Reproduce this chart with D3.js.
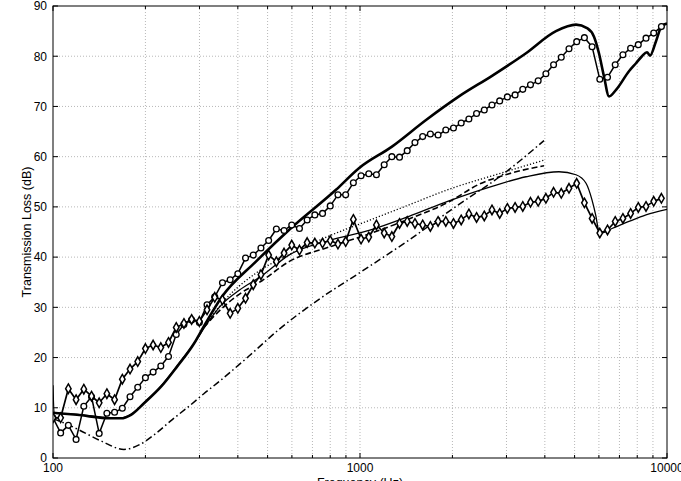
<!DOCTYPE html>
<html>
<head>
<meta charset="utf-8">
<script src="https://cdn.jsdelivr.net/npm/d3@7"></script>
<style>
  html, body { margin: 0; padding: 0; background: #fff; }
  svg { display: block; font-family: "Liberation Sans", Arial, Helvetica, sans-serif; }
</style>
</head>
<body>
<div id="chart"></div>
<script>
// 1/12-octave measurement bands (Hz)
const freq = [100, 105.9, 112.2, 118.9, 126, 133.5, 141.4, 149.8, 158.7, 168.2,
  178.2, 188.8, 200, 211.9, 224.5, 237.8, 252, 267, 282.8, 299.7,
  317.5, 336.4, 356.4, 377.6, 400, 423.8, 449, 475.7, 504, 534,
  565.7, 599.3, 635, 672.7, 712.7, 755.1, 800, 847.6, 898, 951.4,
  1008, 1068, 1131, 1199, 1270, 1345, 1425, 1510, 1600, 1695,
  1796, 1903, 2016, 2136, 2263, 2397, 2540, 2691, 2851, 3020,
  3200, 3390, 3592, 3805, 4032, 4271, 4525, 4795, 5080, 5382,
  5702, 6041, 6400, 6781, 7184, 7611, 8063, 8543, 9051, 9589];

// measured, circles
const tlCircles = [8.0, 5.0, 6.5, 3.7, 10.3, 12.2, 4.9, 8.9, 9.1, 9.9,
  12.2, 14.1, 16.0, 17.1, 18.3, 20.2, 24.6, 26.6, 27.5, 27.0,
  30.5, 32.1, 34.9, 35.5, 36.7, 39.8, 40.4, 41.8, 43.3, 45.6,
  45.3, 46.4, 45.7, 47.4, 48.4, 48.7, 50.2, 52.4, 52.4, 54.8,
  56.2, 56.6, 56.4, 58.4, 60.0, 59.9, 61.2, 62.8, 64.0, 64.5,
  64.3, 65.3, 65.7, 66.7, 67.5, 68.6, 69.3, 70.3, 71.1, 71.9,
  72.3, 73.4, 74.3, 75.1, 76.5, 78.3, 79.8, 81.5, 82.9, 83.7,
  81.9, 75.4, 75.8, 78.3, 80.3, 81.6, 82.3, 83.6, 84.6, 85.9];

// measured, diamonds
const tlDiamonds = [8.0, 8.0, 13.8, 11.6, 13.7, 12.3, 11.0, 12.8, 11.6, 15.7,
  17.7, 19.2, 21.8, 22.5, 22.0, 23.0, 26.0, 26.8, 27.6, 27.2,
  29.5, 32.0, 31.5, 28.8, 29.8, 31.8, 34.5, 36.5, 40.4, 39.1,
  40.8, 42.4, 41.4, 42.9, 42.8, 42.8, 43.3, 42.6, 43.1, 47.5,
  43.6, 44.0, 46.4, 44.8, 44.1, 46.7, 47.1, 46.7, 46.4, 46.1,
  47.1, 47.1, 46.7, 47.4, 48.6, 47.9, 48.2, 49.4, 48.7, 49.7,
  49.9, 50.1, 50.9, 51.1, 51.7, 52.9, 52.7, 53.7, 54.7, 50.8,
  47.7, 44.8, 45.4, 47.1, 47.7, 48.7, 49.9, 50.1, 51.1, 51.7];

// predictions
const thickF = [100, 119.7, 154.5, 166.5, 179.5, 197.9, 224.8, 253.5, 288, 310,
  355, 458, 587, 835, 992, 1271, 1641, 2101, 2692, 3473,
  4348, 5053, 5489, 5784, 6003, 6233, 6474, 6823, 7519, 7925,
  8289, 8607, 8804, 9209, 9632, 10000];
const thickTL = [9.0, 8.6, 7.9, 7.9, 8.6, 10.9, 14.2, 18.2, 22.8, 26.2,
  32.1, 39.1, 45.4, 53.4, 57.7, 62.0, 67.3, 72.0, 76.1, 80.6,
  85.0, 86.3, 85.6, 83.9, 80.6, 76.0, 72.0, 73.3, 77.0, 78.6,
  80.0, 80.8, 80.1, 83.0, 86.1, 86.5];

const thinF = [100, 100.8, 119.7, 154.5, 166.5, 179.5, 197.9, 224.8, 253.5, 288,
  322, 355, 404, 479.5, 587, 793, 1070, 1444, 1949, 2692,
  3473, 4448, 5053, 5448, 5697, 5870, 5983, 6095, 6620, 7519,
  8542, 10000];
const thinTL = [14.5, 9.0, 8.7, 8.0, 8.0, 8.7, 11.0, 14.3, 18.3, 22.8,
  27.3, 30.6, 33.4, 36.3, 40.4, 43.3, 45.3, 48.1, 51.2, 54.1,
  56.0, 57.0, 56.4, 54.7, 51.4, 48.1, 45.4, 44.8, 45.7, 47.1,
  48.4, 49.5];

const dashF = [310, 355, 404, 479.5, 587, 793, 1070, 1444, 1949, 2441, 3057, 3975];
const dashTL = [26.0, 29.8, 32.6, 35.3, 39.1, 42.0, 44.6, 47.6, 51.0, 54.5, 56.6, 58.2];

const dotF = [310, 355, 458, 587, 793, 1070, 1444, 1949, 2836, 3975];
const dotTL = [26.0, 30.8, 36.8, 40.5, 44.2, 47.3, 50.4, 53.5, 56.6, 59.3];

const dashDotF = [100, 109.4, 121.5, 144.4, 170.3, 190.6, 216.5, 244.1, 277.3, 310,
  347.3, 434.9, 544.8, 735.3, 992.4, 1444, 2101, 2836, 3975];
const dashDotTL = [7.8, 6.9, 5.6, 3.3, 1.7, 2.6, 4.9, 7.6, 10.3, 12.8,
  15.2, 20.3, 25.6, 31.6, 36.8, 43.4, 50.5, 55.9, 63.2];

const yTicks = [0, 10, 20, 30, 40, 50, 60, 70, 80, 90];
const xMajor = [100, 1000, 10000];
const xMinor = [200, 300, 400, 500, 600, 700, 800, 900, 2000, 3000, 4000, 5000, 6000, 7000, 8000, 9000];

const width = 681, height = 481;
const margin = { top: 6, right: 14, bottom: 23, left: 53 };
const innerW = width - margin.left - margin.right;
const innerH = height - margin.top - margin.bottom;

const svg = d3.select("#chart").append("svg").attr("width", width).attr("height", height);
const g = svg.append("g").attr("transform", `translate(${margin.left},${margin.top})`);

const x = d3.scaleLog().domain([100, 10000]).range([0, innerW]);
const y = d3.scaleLinear().domain([0, 90]).range([innerH, 0]);

svg.append("defs").append("clipPath").attr("id", "plot")
  .append("rect").attr("width", innerW).attr("height", innerH);

// grid
const grid = g.append("g").attr("stroke", "#9a9a9a").attr("stroke-width", 0.7).attr("stroke-dasharray", "1,2");
grid.selectAll(".gx").data(xMinor.concat([1000])).join("line")
  .attr("x1", (d) => x(d)).attr("x2", (d) => x(d)).attr("y1", 0).attr("y2", innerH);
grid.selectAll(".gy").data(yTicks.slice(1, -1)).join("line")
  .attr("y1", (d) => y(d)).attr("y2", (d) => y(d)).attr("x1", 0).attr("x2", innerW);

const plot = g.append("g").attr("clip-path", "url(#plot)");
const line = d3.line().x((d) => x(d[0])).y((d) => y(d[1]));
const smooth = d3.line().x((d) => x(d[0])).y((d) => y(d[1])).curve(d3.curveMonotoneX);
const zip = (a, b) => a.map((v, i) => [v, b[i]]);

function drawLine(data, gen, width, dash) {
  plot.append("path").datum(data)
    .attr("fill", "none").attr("stroke", "#000").attr("stroke-width", width)
    .attr("stroke-linejoin", "round")
    .attr("stroke-dasharray", dash || null)
    .attr("d", gen);
}

drawLine(zip(dashDotF, dashDotTL), smooth, 1.5, "7,3,1.5,3");
drawLine(zip(dotF, dotTL), smooth, 1.3, "1.2,2");
drawLine(zip(dashF, dashTL), smooth, 1.6, "6,3");
drawLine(zip(thinF, thinTL), smooth, 1.3);
drawLine(zip(thickF, thickTL), smooth, 2.6);

const circles = zip(freq, tlCircles);
drawLine(circles, line, 1.5);
plot.append("g").selectAll("circle").data(circles).join("circle")
  .attr("cx", (d) => x(d[0])).attr("cy", (d) => y(d[1])).attr("r", 2.9)
  .attr("fill", "#fff").attr("stroke", "#000").attr("stroke-width", 1.3);

const diamonds = zip(freq, tlDiamonds);
drawLine(diamonds, line, 1.7);
plot.append("g").selectAll("path").data(diamonds).join("path")
  .attr("transform", (d) => `translate(${x(d[0])},${y(d[1])})`)
  .attr("d", d3.symbol(d3.symbolDiamond, 26))
  .attr("fill", "#fff").attr("stroke", "#000").attr("stroke-width", 1.5);

// axes, MATLAB style box with inward ticks
g.append("rect").attr("width", innerW).attr("height", innerH)
  .attr("fill", "none").attr("stroke", "#000").attr("stroke-width", 1);

const ticks = g.append("g").attr("stroke", "#000").attr("stroke-width", 1);
ticks.selectAll(".ty").data(yTicks).join("line")
  .attr("x1", 0).attr("x2", 5).attr("y1", (d) => y(d)).attr("y2", (d) => y(d));
ticks.selectAll(".tyr").data(yTicks).join("line")
  .attr("x1", innerW - 5).attr("x2", innerW).attr("y1", (d) => y(d)).attr("y2", (d) => y(d));
ticks.selectAll(".tx").data(xMajor.concat(xMinor)).join("line")
  .attr("x1", (d) => x(d)).attr("x2", (d) => x(d))
  .attr("y1", innerH).attr("y2", (d) => innerH - (xMajor.includes(d) ? 5 : 3));
ticks.selectAll(".txt").data(xMajor.concat(xMinor)).join("line")
  .attr("x1", (d) => x(d)).attr("x2", (d) => x(d))
  .attr("y1", 0).attr("y2", (d) => (xMajor.includes(d) ? 5 : 3));

g.append("g").selectAll("text").data(yTicks).join("text")
  .attr("x", -6).attr("y", (d) => y(d)).attr("dy", "0.36em")
  .attr("text-anchor", "end").attr("font-size", 12).text((d) => d);

g.append("g").selectAll("text").data(xMajor).join("text")
  .attr("x", (d) => x(d)).attr("y", innerH + 14)
  .attr("text-anchor", "middle").attr("font-size", 12).text((d) => d);

svg.append("text")
  .attr("transform", `translate(31,${margin.top + innerH / 2}) rotate(-90)`)
  .attr("text-anchor", "middle").attr("font-size", 12.5)
  .text("Transmission Loss (dB)");

svg.append("text")
  .attr("x", margin.left + innerW / 2).attr("y", 487)
  .attr("text-anchor", "middle").attr("font-size", 12.5)
  .text("Frequency (Hz)");
</script>
</body>
</html>
